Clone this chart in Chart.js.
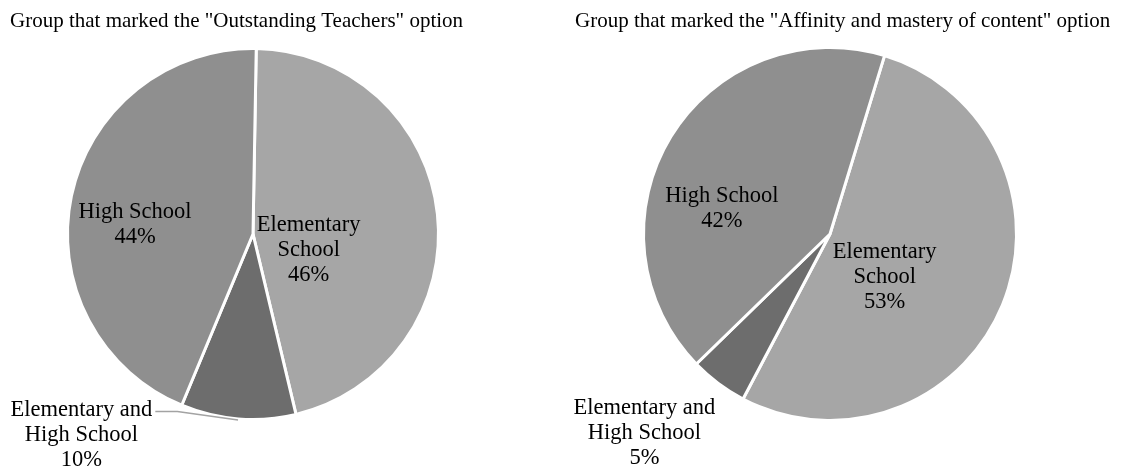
<!DOCTYPE html>
<html>
<head>
<meta charset="utf-8">
<script src="https://cdn.jsdelivr.net/npm/chart.js@4"></script>
<style>
body { margin: 0; background: #fff; }
#wrap { display: flex; width: 1128px; height: 471px; }
canvas { display: block; }
</style>
</head>
<body>
<div id="wrap">
  <canvas id="teachersChart" width="564" height="471"></canvas>
  <canvas id="contentChart" width="564" height="471"></canvas>
</div>
<script>
// slice order is clockwise from the top
var groups = ['Elementary School', 'Elementary and High School', 'High School'];
var teachersValues = [46, 10, 44];
var contentValues = [53, 5, 42];
var teachersTitle = 'Group that marked the "Outstanding Teachers" option';
var contentTitle = 'Group that marked the "Affinity and mastery of content" option';
// how each group name is wrapped in the slice labels
var labelLines = [['Elementary', 'School'], ['Elementary and', 'High School'], ['High School']];

var sliceColors = ['#a6a6a6', '#6d6d6d', '#8f8f8f'];
var serif = '"Liberation Serif", "Times New Roman", serif';

// draws the title plus the name / percent labels for each slice
const pieLabels = {
    id: 'pieLabels',
    afterDraw(chart, args, opts) {
        const ctx = chart.ctx;
        const meta = chart.getDatasetMeta(0);
        const values = chart.data.datasets[0].data;
        ctx.save();
        ctx.fillStyle = '#000';
        ctx.textAlign = 'left';
        ctx.textBaseline = 'alphabetic';
        ctx.font = '21px ' + serif;
        ctx.fillText(opts.title, opts.titleX, 27);

        ctx.font = '22.5px ' + serif;
        ctx.textAlign = 'center';
        ctx.textBaseline = 'middle';
        meta.data.forEach((arc, i) => {
            const r = arc.outerRadius;
            const pos = opts.positions[i];
            const x = arc.x + pos[0] * r;
            const y = arc.y + pos[1] * r;
            const lines = labelLines[i].concat([values[i] + '%']);
            const top = y - (lines.length - 1) * 25 / 2;
            if (pos[2]) {
                // leader line from the first label row to the slice edge
                const mid = (arc.startAngle + arc.endAngle) / 2;
                const w = ctx.measureText(lines[0]).width;
                const sx = x + w / 2 + 3;
                ctx.strokeStyle = '#a3a3a3';
                ctx.lineWidth = 1.5;
                ctx.beginPath();
                ctx.moveTo(sx, top + 1);
                ctx.lineTo(sx + 22, top + 1);
                ctx.lineTo(arc.x + Math.cos(mid) * (r + 1), arc.y + Math.sin(mid) * (r + 1));
                ctx.stroke();
            }
            lines.forEach((t, k) => ctx.fillText(t, x, top + k * 25));
        });
        ctx.restore();
    }
};

function makePie(id, values, rotation, padding, title, titleX, positions) {
    return new Chart(document.getElementById(id), {
        type: 'pie',
        data: {
            labels: groups,
            datasets: [{
                data: values,
                backgroundColor: sliceColors,
                borderColor: '#fff',
                borderWidth: 3,
                offset: 0,
                hoverOffset: 0
            }]
        },
        options: {
            responsive: false,
            animation: false,
            rotation: rotation,
            layout: { padding: padding },
            events: [],
            plugins: {
                legend: { display: false },
                tooltip: { enabled: false },
                title: { display: false },
                pieLabels: { title: title, titleX: titleX, positions: positions }
            }
        },
        plugins: [pieLabels]
    });
}

makePie('teachersChart', teachersValues, 1,
    { left: 66, right: 124, top: 47, bottom: 50 },
    teachersTitle, 10,
    [[0.30, 0.086], [-0.925, 1.086, true], [-0.636, -0.053]]);

makePie('contentChart', contentValues, 17,
    { left: 78, right: 110, top: 46, bottom: 49 },
    contentTitle, 11,
    [[0.293, 0.229], [-0.995, 1.069], [-0.58, -0.138]]);
</script>
</body>
</html>
